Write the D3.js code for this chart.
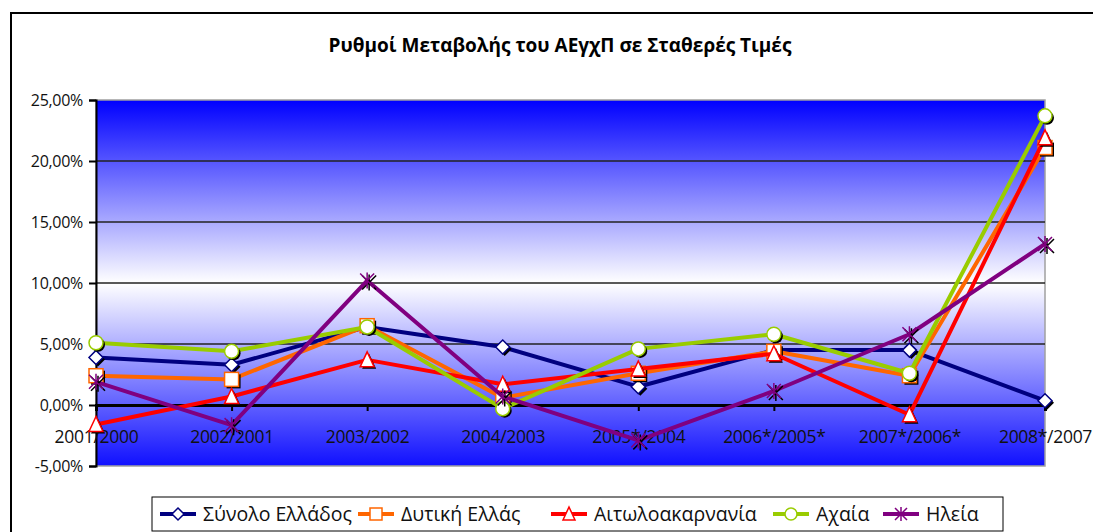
<!DOCTYPE html>
<html>
<head>
<meta charset="utf-8">
<script src="https://cdn.jsdelivr.net/npm/d3@7"></script>
<style>
  body { margin: 0; background: #fff; }
  svg { display: block; }
</style>
</head>
<body>
<script>
let w = 1093;
let h = 532;

// categories and series
let years = ["2001/2000", "2002/2001", "2003/2002", "2004/2003", "2005*/2004", "2006*/2005*", "2007*/2006*", "2008*/2007"];
let synolo = [3.9, 3.3, 6.4, 4.75, 1.5, 4.5, 4.5, 0.35];
let dytiki = [2.4, 2.1, 6.5, 0.6, 2.6, 4.4, 2.4, 21.1];
let aitoloak = [-1.6, 0.7, 3.7, 1.7, 2.95, 4.2, -0.8, 21.9];
let achaia = [5.1, 4.4, 6.4, -0.3, 4.6, 5.8, 2.6, 23.7];
let ileia = [1.9, -1.65, 10.2, 0.7, -2.9, 1.15, 5.8, 13.2];
let yTicks = [-5, 0, 5, 10, 15, 20, 25];

let series = [
  { name: "Σύνολο  Ελλάδος", values: synolo, color: "#000080", marker: "diamond" },
  { name: "Δυτική Ελλάς", values: dytiki, color: "#ff6600", marker: "square" },
  { name: "Αιτωλοακαρνανία", values: aitoloak, color: "#ff0000", marker: "triangle" },
  { name: "Αχαία", values: achaia, color: "#99cc00", marker: "circle" },
  { name: "Ηλεία", values: ileia, color: "#800080", marker: "star" }
];

let font = "'Open Sans', sans-serif";
let pLeft = 96, pRight = 1045, pTop = 100, pBottom = 466;

let svg = d3.select("body").append("svg")
  .attr("width", w)
  .attr("height", h);

// outer frame
svg.append("rect")
  .attr("x", 11).attr("y", 13)
  .attr("width", 1100).attr("height", 540)
  .attr("fill", "#fff")
  .attr("stroke", "#000")
  .attr("stroke-width", 2);

svg.append("text")
  .attr("x", 560).attr("y", 52)
  .attr("text-anchor", "middle")
  .attr("font-family", font)
  .attr("font-weight", "bold")
  .attr("font-size", "19px")
  .text("Ρυθμοί Μεταβολής του ΑΕγχΠ σε Σταθερές Τιμές");

let xScale = d3.scalePoint()
  .domain(years)
  .range([pLeft, pRight]);

let yScale = d3.scaleLinear()
  .domain([-5, 25])
  .range([pBottom, pTop]);

// background gradient
let grad = svg.append("defs").append("linearGradient")
  .attr("id", "bg")
  .attr("x1", 0).attr("y1", 0).attr("x2", 0).attr("y2", 1);
grad.append("stop").attr("offset", 0).attr("stop-color", "#0000ff");
grad.append("stop").attr("offset", 0.5).attr("stop-color", "#ffffff");
grad.append("stop").attr("offset", 1).attr("stop-color", "#1010ff");

svg.append("rect")
  .attr("x", pLeft).attr("y", pTop)
  .attr("width", pRight - pLeft).attr("height", pBottom - pTop)
  .attr("fill", "url(#bg)")
  .attr("stroke", "#a0a0a0")
  .attr("stroke-width", 1.5);

// gridlines
svg.selectAll(".grid")
  .data(yTicks.filter(d => d > -5 && d < 25 && d != 0))
  .enter()
  .append("line")
  .attr("x1", pLeft).attr("x2", pRight)
  .attr("y1", d => yScale(d)).attr("y2", d => yScale(d))
  .attr("stroke", "#222")
  .attr("stroke-width", 1.5);

// y axis
let yAxis = d3.axisLeft(yScale)
  .tickValues(yTicks)
  .tickSize(7)
  .tickPadding(6)
  .tickFormat(d => d3.format(".2f")(d).replace("−", "-").replace(".", ",") + "%");

let gy = svg.append("g")
  .attr("transform", "translate(" + pLeft + ",0)")
  .call(yAxis);
gy.select(".domain").attr("stroke", "#000").attr("stroke-width", 2);
gy.selectAll(".tick line").attr("stroke", "#000").attr("stroke-width", 2);
gy.selectAll("text")
  .attr("font-family", font)
  .attr("font-size", "16px")
  .attr("letter-spacing", "-0.3px")
  .attr("fill", "#111");

// x axis at zero
let xAxis = d3.axisBottom(xScale)
  .tickSize(6)
  .tickPadding(20);

let gx = svg.append("g")
  .attr("transform", "translate(0," + yScale(0) + ")")
  .call(xAxis);
gx.select(".domain").attr("stroke", "#000").attr("stroke-width", 3);
gx.selectAll(".tick line").attr("stroke", "#000").attr("stroke-width", 2);
gx.selectAll("text")
  .attr("font-family", font)
  .attr("font-size", "17.5px")
  .attr("letter-spacing", "-0.3px")
  .attr("fill", "#111");

// markers
function drawMarker(g, type, color, x, y, size) {
  let s = size || 7;
  if (type == "diamond") {
    g.append("path")
      .attr("d", "M" + x + "," + (y - s) + "L" + (x + s) + "," + y + "L" + x + "," + (y + s) + "L" + (x - s) + "," + y + "Z")
      .attr("fill", "#fff").attr("stroke", color).attr("stroke-width", 1.5);
  } else if (type == "square") {
    g.append("rect")
      .attr("x", x - s).attr("y", y - s).attr("width", 2 * s).attr("height", 2 * s)
      .attr("fill", "#fff").attr("stroke", color).attr("stroke-width", 1.5);
  } else if (type == "triangle") {
    g.append("path")
      .attr("d", "M" + x + "," + (y - s - 1) + "L" + (x + s) + "," + (y + s) + "L" + (x - s) + "," + (y + s) + "Z")
      .attr("fill", "#fff").attr("stroke", color).attr("stroke-width", 1.5);
  } else if (type == "circle") {
    g.append("circle")
      .attr("cx", x).attr("cy", y).attr("r", s)
      .attr("fill", "#fff").attr("stroke", color).attr("stroke-width", 1.5);
  } else if (type == "star") {
    let d = "M" + (x - s) + "," + (y - s) + "L" + (x + s) + "," + (y + s)
      + "M" + (x + s) + "," + (y - s) + "L" + (x - s) + "," + (y + s)
      + "M" + x + "," + (y - s - 1) + "L" + x + "," + (y + s + 1);
    g.append("path").attr("d", d).attr("stroke", color).attr("stroke-width", 1.5).attr("fill", "none");
  }
}

function drawShadow(g, type, x, y, size) {
  let s = size || 7;
  let sx = x + 2, sy = y + 2;
  if (type == "star") {
    let d = "M" + (sx - s) + "," + (sy - s) + "L" + (sx + s) + "," + (sy + s)
      + "M" + (sx + s) + "," + (sy - s) + "L" + (sx - s) + "," + (sy + s)
      + "M" + sx + "," + (sy - s - 1) + "L" + sx + "," + (sy + s + 1);
    g.append("path").attr("d", d).attr("stroke", "#000").attr("stroke-width", 1.5).attr("fill", "none");
  } else if (type == "diamond") {
    g.append("path")
      .attr("d", "M" + sx + "," + (sy - s) + "L" + (sx + s) + "," + sy + "L" + sx + "," + (sy + s) + "L" + (sx - s) + "," + sy + "Z")
      .attr("fill", "#000");
  } else if (type == "square") {
    g.append("rect").attr("x", sx - s).attr("y", sy - s).attr("width", 2 * s).attr("height", 2 * s).attr("fill", "#000");
  } else if (type == "triangle") {
    g.append("path")
      .attr("d", "M" + sx + "," + (sy - s - 1) + "L" + (sx + s) + "," + (sy + s) + "L" + (sx - s) + "," + (sy + s) + "Z")
      .attr("fill", "#000");
  } else {
    g.append("circle").attr("cx", sx).attr("cy", sy).attr("r", s).attr("fill", "#000");
  }
}

let line = d3.line()
  .x((d, i) => xScale(years[i]))
  .y(d => yScale(d));

series.forEach(s => {
  let g = svg.append("g");
  g.append("path")
    .datum(s.values)
    .attr("d", line)
    .attr("fill", "none")
    .attr("stroke", s.color)
    .attr("stroke-width", 4)
    .attr("stroke-linejoin", "round");
  s.values.forEach((v, i) => {
    drawShadow(g, s.marker, xScale(years[i]), yScale(v));
    drawMarker(g, s.marker, s.color, xScale(years[i]), yScale(v));
  });
});

// legend
svg.append("rect")
  .attr("x", 152).attr("y", 497)
  .attr("width", 851).attr("height", 34)
  .attr("fill", "#fff")
  .attr("stroke", "#000")
  .attr("stroke-width", 1);

let legendX = [160, 358, 551, 773, 883];
series.forEach((s, i) => {
  let g = svg.append("g").attr("transform", "translate(" + legendX[i] + ",514)");
  g.append("line")
    .attr("x1", 0).attr("x2", 36)
    .attr("y1", 0).attr("y2", 0)
    .attr("stroke", s.color)
    .attr("stroke-width", 4);
  drawMarker(g, s.marker, s.color, 18, 0, 6);
  g.append("text")
    .attr("x", 43).attr("y", 7)
    .attr("font-family", font)
    .attr("font-size", "19.5px")
    .attr("fill", "#111")
    .text(s.name);
});
</script>
</body>
</html>
